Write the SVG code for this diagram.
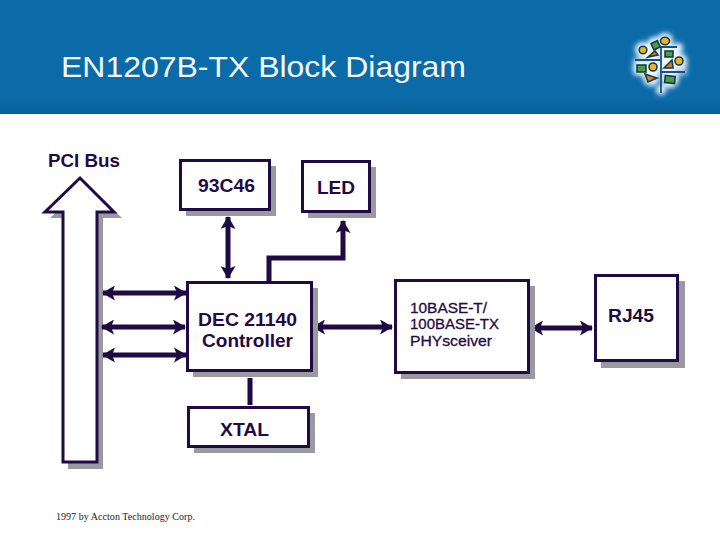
<svg xmlns="http://www.w3.org/2000/svg" width="720" height="540" viewBox="0 0 720 540">
<style>
.box{fill:#fff;stroke:#1f0a45;stroke-width:3}
.sh{fill:#999aa0}
.c{fill:none;stroke:#1f0a45;stroke-width:5}
.t{font-family:"Liberation Sans",Arial,sans-serif;fill:#1f0a45;font-weight:bold;font-size:19px}
.n{font-family:"Liberation Sans",Arial,sans-serif;fill:#1f0a45;stroke:#1f0a45;stroke-width:.3;font-size:15px}
.leaf{stroke:#0f3f50;stroke-width:1.6}
.tree{fill:none;stroke:#1c4f8a;stroke-width:1.8}
</style>
<defs>
<marker id="e" viewBox="0 0 13 15" refX="12" refY="7.500" markerWidth="13" markerHeight="15" markerUnits="userSpaceOnUse" orient="auto-start-reverse"><path d="M0 0L13 7.500L0 15L3 7.500Z" fill="#1f0a45"/></marker>
<linearGradient id="hd" x1="0" y1="0" x2="0" y2="1"><stop offset="0" stop-color="#0b6ba9"/><stop offset="0.85" stop-color="#0b6ba9"/><stop offset="1" stop-color="#0a5f9a"/></linearGradient>
<filter id="blur" x="-30%" y="-30%" width="160%" height="160%"><feGaussianBlur stdDeviation="2.600"/></filter>
</defs>
<rect width="720" height="540" fill="#fff"/>
<g id="header">
<rect width="720" height="114" fill="url(#hd)"/>
<text x="61" y="77" font-family="Liberation Sans,Arial,sans-serif" font-size="29" fill="#f4f6f8" textLength="405" lengthAdjust="spacingAndGlyphs">EN1207B-TX Block Diagram</text>
</g>
<g id="logo">
<g filter="url(#blur)" fill="#eef8fd">
<circle cx="643" cy="50" r="8"/><circle cx="655" cy="45" r="8"/><circle cx="665" cy="41" r="8"/>
<circle cx="678" cy="48" r="5"/><circle cx="669" cy="54" r="9"/><circle cx="652" cy="54" r="8"/>
<circle cx="668" cy="64" r="9"/><circle cx="679" cy="61" r="8"/><circle cx="641" cy="68" r="8"/>
<circle cx="653" cy="67" r="8"/><circle cx="651" cy="78" r="8"/><circle cx="670" cy="79" r="9"/>
<circle cx="661" cy="90" r="5"/><path d="M633 58H687V75H633Z" opacity=".7"/>
</g>
<path class="tree" d="M661 47V93M661 47H677M635 60H661M661 72H685"/>
<circle class="leaf" cx="643" cy="50" r="3.800" fill="#f2b21e"/>
<rect class="leaf" x="652" y="42" width="7" height="7" fill="#4f9c3a" transform="rotate(-25 655 45)"/>
<ellipse class="leaf" cx="665" cy="41" rx="4.500" ry="3.800" fill="#f2b21e"/>
<path class="leaf" d="M648 57L655 51L658 55Z" fill="#e07b28"/>
<rect class="leaf" x="665" y="51" width="8" height="6" fill="#4f9c3a"/>
<path class="leaf" d="M664 68L672 60L673 68Z" fill="#e07b28"/>
<circle class="leaf" cx="679" cy="61" r="4" fill="#f2b21e"/>
<rect class="leaf" x="637" y="65" width="9" height="7" fill="#4f9c3a"/>
<circle class="leaf" cx="653" cy="67" r="4" fill="#f2b21e"/>
<path class="leaf" d="M645 74L657 78L648 82Z" fill="#e07b28"/>
<rect class="leaf" x="665" y="76" width="10" height="7" fill="#4f9c3a" transform="rotate(6 670 79)"/>
</g>
<g id="pci-bus">
<path class="sh" d="M50 218H68V469H103V218H122L86 184Z"/>
<path class="box" d="M45 212H63V462H97V212H114L80 178Z"/>
<text class="t" x="48" y="167" textLength="72" lengthAdjust="spacingAndGlyphs">PCI Bus</text>
</g>
<g id="connectors">
<path class="c" marker-start="url(#e)" marker-end="url(#e)" d="M228 217V278"/>
<path class="c" marker-end="url(#e)" d="M269 283V258H343V221"/>
<path class="c" marker-start="url(#e)" marker-end="url(#e)" d="M103 293H186"/>
<path class="c" marker-start="url(#e)" marker-end="url(#e)" d="M102 327H185"/>
<path class="c" marker-start="url(#e)" marker-end="url(#e)" d="M103 355H186"/>
<path class="c" marker-start="url(#e)" marker-end="url(#e)" d="M313 327H392"/>
<path class="c" marker-start="url(#e)" marker-end="url(#e)" d="M531 328H592"/>
<path class="c" d="M250 378V405"/>
</g>
<g id="node-93c46">
<rect class="sh" x="186" y="166" width="90" height="50"/>
<rect class="box" x="180.500" y="160.500" width="89" height="49"/>
<text class="t" x="198" y="192" textLength="57" lengthAdjust="spacingAndGlyphs">93C46</text>
</g>
<g id="node-led">
<rect class="sh" x="308" y="167" width="68" height="51"/>
<rect class="box" x="302.500" y="161.500" width="67" height="50"/>
<text class="t" x="317" y="194" textLength="38" lengthAdjust="spacingAndGlyphs">LED</text>
</g>
<g id="node-dec">
<rect class="sh" x="193" y="288" width="125" height="89"/>
<rect class="box" x="187.500" y="282.500" width="124" height="88"/>
<text class="t" x="198" y="326" textLength="99" lengthAdjust="spacingAndGlyphs">DEC 21140</text>
<text class="t" x="202" y="347" textLength="91" lengthAdjust="spacingAndGlyphs">Controller</text>
</g>
<g id="node-xtal">
<rect class="sh" x="194" y="413" width="121" height="40"/>
<rect class="box" x="188.500" y="407.500" width="120" height="39"/>
<text class="t" x="220" y="436" textLength="49" lengthAdjust="spacingAndGlyphs">XTAL</text>
</g>
<g id="node-phy">
<rect class="sh" x="401" y="286" width="134" height="93"/>
<rect class="box" x="395.500" y="280.500" width="133" height="92"/>
<text class="n" x="410" y="313" textLength="77" lengthAdjust="spacingAndGlyphs">10BASE-T/</text>
<text class="n" x="410" y="329" textLength="89" lengthAdjust="spacingAndGlyphs">100BASE-TX</text>
<text class="n" x="410" y="346" textLength="82" lengthAdjust="spacingAndGlyphs">PHYsceiver</text>
</g>
<g id="node-rj45">
<rect class="sh" x="601" y="281" width="84" height="87"/>
<rect class="box" x="595.500" y="275.500" width="82" height="85"/>
<text class="t" x="608" y="322" textLength="46" lengthAdjust="spacingAndGlyphs">RJ45</text>
</g>
<text x="56" y="520" font-family="Liberation Serif,Times New Roman,serif" font-size="10" fill="#1a1a2a" textLength="139">1997 by Accton Technology Corp.</text>
</svg>
